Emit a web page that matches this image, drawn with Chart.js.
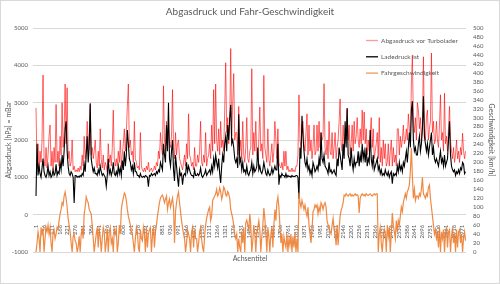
<!DOCTYPE html>
<html lang="de">
<head>
<meta charset="UTF-8" />
<title>Abgasdruck und Fahr-Geschwindigkeit</title>
<script src="https://cdn.jsdelivr.net/npm/chart.js"></script>
<style>
  html, body { margin: 0; padding: 0; background: #fff; }
  #wrap { width: 500px; height: 284px; }
</style>
</head>
<body>
<div id="wrap"><canvas id="chart" width="500" height="284"></canvas></div>
<script>
// one value every 7 samples (sample number = 1 + 7 * index)
const sampleStep = 7;

// x axis tick labels (sample numbers)
const xTicks = [1, 56, 111, 166, 221, 276, 331, 386, 441, 496, 551, 606, 661, 716, 771, 826, 881, 936, 991,
  1046, 1101, 1156, 1211, 1266, 1321, 1376, 1431, 1486, 1541, 1596, 1651, 1706, 1761, 1816, 1871, 1926, 1981,
  2036, 2091, 2146, 2201, 2256, 2311, 2366, 2421, 2476, 2531, 2586, 2641, 2696, 2751, 2806, 2861, 2916, 2971];

// Abgasdruck vor Turbolader [mbar]
const exhaust = [
  2860, 1300, 1900, 1200, 1700, 1400, 2000, 3740, 1500, 1300, 1800, 1250, 1600, 2100, 2400, 1300, 1700, 1200, 1800, 1400,
  2950, 1400, 1700, 1300, 2100, 1600, 3000, 1800, 2200, 3500, 1900, 3400, 1500, 1700, 1300, 1400, 2000, 1200, 1300, 1150,
  1200, 1150, 1250, 1150, 1300, 1200, 1600, 1300, 2100, 1500, 1800, 2500, 1700, 2200, 2950, 1600, 1800, 1500, 1700, 2000,
  1400, 1250, 1700, 1300, 2300, 1500, 1250, 1600, 1200, 1400, 1300, 1150, 1900, 1400, 1600, 1300, 1800, 2800, 1500, 1300,
  1500, 1300, 1700, 1400, 2000, 1300, 1600, 1900, 2300, 1700, 2200, 2900, 3500, 1800, 2000, 1600, 1700, 1400, 2500, 1500,
  1400, 1250, 1300, 1200, 2200, 1300, 1200, 1150, 1250, 1150, 1300, 1200, 1400, 1150, 1200, 1250, 1150, 1200, 1300, 1200,
  1400, 1300, 1700, 1500, 2200, 1800, 1600, 3450, 2000, 1700, 2500, 2000, 2300, 1900, 1800, 2100, 3350, 1800, 1500, 2200,
  1600, 1900, 2000, 1500, 1400, 1300, 1200, 1400, 1600, 1300, 1900, 1500, 2700, 1600, 1500, 1300, 1400, 1200, 1800, 1300,
  1300, 1600, 1400, 1700, 2500, 1400, 1300, 1600, 1400, 2200, 1300, 1500, 1600, 1900, 1500, 2400, 1700, 3350, 1900, 3500,
  2000, 1700, 2300, 1600, 2500, 1800, 2000, 1700, 2800, 4070, 2200, 2600, 1900, 2400, 4450, 2100, 3000, 3780, 2000, 2200,
  2200, 1600, 2900, 1700, 2000, 1500, 2500, 1600, 1400, 1800, 2600, 1500, 1400, 1700, 1800, 3910, 1600, 2200, 1700, 2500,
  1600, 1500, 2000, 2880, 1700, 1900, 1500, 3730, 1800, 1600, 1400, 2300, 1500, 1300, 1600, 1900, 1400, 1700, 2500, 2000,
  1500, 2300, 1400, 1300, 1250, 1400, 1200, 1700, 1300, 1700, 1200, 1300, 1150, 1200, 1150, 1250, 1150, 1200, 1150, 1300,
  1300, 1600, 3210, 2000, 1800, 2400, 2500, 1900, 1700, 2200, 2700, 1600, 2400, 1700, 2000, 1500, 1800, 2400, 1600, 1700,
  2400, 1700, 2500, 1800, 2200, 2000, 2100, 3510, 1800, 1600, 2000, 1500, 2500, 1700, 1600, 2200, 1500, 1800, 2200, 1500,
  1800, 2000, 2500, 3100, 1900, 1700, 2400, 1800, 2000, 2200, 2850, 2000, 2400, 1600, 1900, 2400, 1700, 2500, 1900, 2100,
  2600, 2000, 1800, 2300, 1900, 2800, 2000, 2750, 1900, 2300, 1600, 2000, 1700, 2200, 2600, 1800, 2300, 1500, 1700, 1900,
  2200, 1500, 2600, 1400, 1800, 1300, 2000, 1500, 1900, 1300, 1400, 1900, 1300, 1700, 2000, 1300, 1800, 1400, 1600, 1300,
  2300, 2300, 1600, 2100, 1800, 2000, 2400, 1900, 2000, 2300, 2000, 2700, 2300, 2000, 3500, 4270, 2500, 2200, 2600, 2000,
  3000, 2800, 2300, 2600, 2000, 2400, 4230, 2300, 2000, 2600, 2800, 2000, 2300, 2500, 4330, 2200, 2500, 1900, 2000, 2500,
  2000, 1800, 2400, 3210, 2000, 2200, 1700, 3250, 1900, 2100, 1700, 2300, 2900, 2000, 1700, 1500, 1800, 1400, 1600, 2000,
  1500, 1700, 1400, 1800, 1600, 2180, 1700, 1500, 1700
];

// Ladedruck ist [mbar]
const boost = [
  500, 1900, 1050, 1300, 1100, 1000, 1250, 1500, 1150, 1050, 1000, 1100, 1300, 1050, 1150, 1000, 1050, 1200, 1050, 1100,
  1350, 1050, 1150, 1100, 1400, 1200, 1600, 1300, 1700, 2300, 2500, 1700, 1300, 1100, 1050, 1150, 1100, 1000, 310, 1050,
  1050, 1000, 1030, 1000, 1050, 1020, 1100, 1050, 1350, 1150, 1600, 2100, 1400, 1800, 2985, 1500, 1300, 1150, 1250, 1100,
  1100, 1050, 1200, 1100, 1300, 1150, 1050, 1100, 1050, 1000, 760, 1050, 1500, 1100, 1200, 1050, 1150, 1400, 1100, 1050,
  1150, 1050, 1300, 1100, 1250, 1050, 1450, 1200, 1700, 1300, 1600, 2270, 1900, 1500, 1400, 1200, 1300, 1100, 1400, 1150,
  1150, 1050, 1050, 1000, 1100, 1020, 1000, 1030, 1000, 1050, 1030, 1000, 750, 1050, 1030, 1100, 1050, 1080, 1100, 1050,
  1150, 1100, 1200, 1150, 1400, 1300, 1200, 1900, 1600, 1400, 2400, 1700, 3000, 1500, 1300, 1700, 2000, 1200, 900, 1600,
  1300, 1000, 750, 1200, 1050, 1100, 800, 1050, 1100, 1050, 1400, 1150, 1300, 1200, 1100, 1050, 1050, 1000, 1200, 1050,
  1050, 1100, 1050, 1100, 1250, 1050, 1000, 1050, 1100, 1200, 1050, 1100, 1150, 1200, 1100, 1300, 1150, 1500, 1300, 1600,
  1400, 1250, 1500, 1100, 850, 1300, 1600, 1400, 1900, 2100, 1700, 2400, 2000, 2600, 2940, 1900, 2000, 1800, 1500, 1400,
  1500, 1250, 2690, 1400, 1500, 1200, 1400, 1150, 1200, 1100, 1300, 1100, 1050, 1150, 1200, 1400, 1100, 1300, 1150, 1200,
  1300, 1800, 1200, 1300, 1150, 1100, 1200, 1400, 1250, 1100, 1050, 1200, 1100, 1050, 1100, 1250, 1100, 1200, 1300, 1200,
  1200, 1900, 800, 1050, 1000, 1100, 1050, 1050, 1000, 1100, 1000, 1050, 1020, 1030, 1000, 1050, 1020, 1030, 1020, 1050,
  1050, 1000, 430, 1800, 1500, 2650, 2100, 1700, 1400, 1300, 1500, 1200, 1300, 1100, 1200, 1050, 1400, 1300, 1150, 1200,
  1300, 1200, 1500, 1300, 2200, 1500, 1400, 1600, 1300, 1250, 1200, 1100, 1400, 1150, 1200, 1100, 1150, 1200, 1100, 1050,
  1500, 1300, 1800, 1600, 1400, 1200, 1900, 1500, 2500, 1800, 2850, 1600, 1500, 1300, 1800, 1400, 1200, 1500, 1300, 1400,
  1400, 1700, 1300, 1600, 1400, 1900, 1500, 1700, 1400, 1800, 1300, 1500, 1400, 2270, 1500, 1300, 1600, 1200, 1300, 1400,
  1500, 1200, 1300, 1100, 1200, 1050, 1100, 1050, 1200, 1100, 1050, 1150, 1000, 1100, 1150, 830, 1100, 1050, 1100, 1050,
  1300, 1150, 1400, 1200, 1300, 1150, 1400, 1300, 1500, 1700, 1400, 1800, 2200, 1800, 2800, 3040, 2000, 1700, 1800, 1600,
  1600, 1900, 2100, 1700, 1900, 2300, 3170, 2100, 1900, 1700, 1900, 1600, 1800, 2000, 2200, 1600, 1800, 1500, 1400, 1500,
  1400, 1300, 1500, 1700, 1400, 1500, 1300, 1600, 1300, 1400, 1500, 2000, 2500, 1600, 1300, 1200, 1150, 1200, 1050, 1150,
  1100, 1200, 1100, 1250, 1200, 1400, 1350, 1100, 1150
];

// Fahrgeschwindigkeit [km/h]
const speed = [
  0, 20, 45, 30, 0, 55, 40, 50, 0, 30, 55, 45, 60, 40, 55, 20, 0, 45, 50, 30,
  40, 55, 50, 70, 85, 95, 110, 105, 125, 134, 120, 100, 75, 60, 45, 20, 0, 35, 40, 25,
  20, 0, 10, 35, 0, 40, 50, 30, 85, 100, 123, 115, 110, 95, 90, 85, 60, 30, 0, 20,
  40, 55, 10, 50, 35, 0, 30, 55, 45, 0, 20, 50, 0, 45, 55, 20, 30, 0, 50, 40,
  50, 0, 20, 60, 40, 95, 110, 120, 132, 128, 115, 95, 80, 70, 60, 45, 40, 20, 0, 30,
  55, 45, 10, 0, 50, 30, 25, 55, 40, 0, 55, 10, 40, 50, 55, 0, 35, 55, 10, 45,
  60, 80, 95, 110, 120, 125, 127, 120, 110, 118, 125, 95, 110, 118, 100, 110, 120, 100, 20, 90,
  110, 125, 134, 110, 90, 70, 55, 40, 30, 0, 20, 50, 40, 30, 0, 45, 55, 10, 50, 30,
  30, 0, 20, 45, 55, 30, 10, 0, 35, 60, 75, 85, 95, 100, 70, 80, 115, 120, 125, 130,
  140, 125, 130, 143, 135, 118, 128, 145, 140, 128, 125, 135, 130, 120, 95, 85, 75, 60, 40, 30,
  40, 0, 30, 10, 0, 45, 20, 55, 0, 65, 71, 60, 50, 85, 60, 0, 25, 60, 40, 0,
  40, 55, 70, 50, 0, 35, 60, 98, 75, 40, 0, 55, 35, 0, 40, 55, 10, 60, 95, 70,
  110, 123, 100, 60, 20, 40, 0, 35, 20, 10, 40, 0, 30, 15, 40, 0, 35, 10, 40, 0,
  30, 0, 132, 110, 100, 115, 105, 95, 105, 90, 80, 100, 60, 40, 20, 50, 90, 95, 105, 100,
  105, 85, 100, 90, 110, 105, 95, 105, 110, 100, 70, 60, 55, 45, 40, 60, 75, 50, 40, 15,
  60, 15, 50, 80, 93, 100, 110, 127, 125, 130, 127, 125, 128, 130, 125, 128, 125, 127, 130, 126,
  128, 125, 87, 120, 127, 130, 126, 128, 125, 130, 127, 126, 128, 130, 127, 125, 128, 130, 127, 130,
  130, 0, 40, 55, 20, 0, 30, 50, 45, 0, 60, 35, 55, 0, 40, 87, 60, 45, 30, 70,
  45, 70, 60, 80, 100, 90, 110, 120, 130, 120, 135, 140, 150, 180, 232, 170, 120, 140, 115, 125,
  125, 120, 130, 125, 140, 167, 130, 125, 120, 130, 125, 145, 150, 120, 100, 80, 60, 40, 50, 30,
  40, 10, 55, 0, 45, 30, 50, 0, 40, 55, 10, 45, 50, 0, 35, 55, 20, 40, 0, 50,
  10, 45, 50, 20, 40, 0, 30, 45, 25
];

const toPoints = arr => arr.map((v, i) => ({ x: 1 + i * sampleStep, y: v }));

const textColor = '#595959';
const fontFamily = 'Lato, "Open Sans", sans-serif';

const seriesStyle = [
  { label: 'Abgasdruck vor Turbolader', color: 'rgba(255, 0, 0, 0.6)', legend: 'rgba(255, 0, 0, 0.4)' },
  { label: 'Ladedruck ist', color: '#000000', legend: '#000000' },
  { label: 'Fahrgeschwindigkeit', color: 'rgba(237, 125, 49, 0.9)', legend: 'rgba(237, 125, 49, 0.8)' }
];

// legend inside the plot, top right, plus the thin outer frame
const innerLegend = {
  id: 'innerLegend',
  afterDraw(chart) {
    const ctx = chart.ctx;
    ctx.save();
    ctx.font = '6.5px ' + fontFamily;
    ctx.textBaseline = 'middle';
    ctx.fillStyle = textColor;
    seriesStyle.forEach((s, i) => {
      const y = 40.5 + i * 16.3;
      ctx.strokeStyle = s.legend;
      ctx.lineWidth = 1.3;
      ctx.beginPath();
      ctx.moveTo(366, y);
      ctx.lineTo(378, y);
      ctx.stroke();
      ctx.fillText(s.label, 381, y);
    });
    ctx.strokeStyle = '#d9d9d9';
    ctx.lineWidth = 1;
    ctx.strokeRect(0.5, 0.5, chart.width - 1, chart.height - 1);
    ctx.restore();
  }
};

new Chart(document.getElementById('chart'), {
  type: 'line',
  data: {
    datasets: [
      {
        label: seriesStyle[0].label,
        data: toPoints(exhaust),
        yAxisID: 'y',
        borderColor: seriesStyle[0].color,
        borderWidth: 1,
        pointRadius: 0,
        order: 3
      },
      {
        label: seriesStyle[1].label,
        data: toPoints(boost),
        yAxisID: 'y',
        borderColor: seriesStyle[1].color,
        borderWidth: 1.1,
        pointRadius: 0,
        order: 2
      },
      {
        label: seriesStyle[2].label,
        data: toPoints(speed),
        yAxisID: 'y1',
        borderColor: seriesStyle[2].color,
        borderWidth: 1.2,
        pointRadius: 0,
        order: 1
      }
    ]
  },
  options: {
    responsive: false,
    animation: false,
    devicePixelRatio: 1,
    layout: { padding: 0 },
    plugins: {
      legend: { display: false },
      tooltip: { enabled: false },
      title: {
        display: true,
        text: 'Abgasdruck und Fahr-Geschwindigkeit',
        color: textColor,
        font: { family: fontFamily, size: 10, weight: 'normal' },
        padding: { top: 6, bottom: 10 }
      },
      subtitle: {
        display: true,
        position: 'bottom',
        text: 'Achsentitel',
        color: textColor,
        font: { family: fontFamily, size: 7, weight: 'normal' },
        padding: { top: 3, bottom: 20.6 }
      }
    },
    scales: {
      x: {
        type: 'linear',
        position: { y: 0 },
        min: -20,
        max: 3000,
        grid: { display: false },
        border: { display: false },
        afterBuildTicks: axis => { axis.ticks = xTicks.map(v => ({ value: v })); },
        ticks: {
          autoSkip: false,
          minRotation: 90,
          maxRotation: 90,
          padding: 2,
          color: textColor,
          font: { family: fontFamily, size: 6 },
          callback: v => String(v)
        }
      },
      y: {
        position: 'left',
        min: -1000,
        max: 5000,
        afterFit: s => { s.width = 33; },
        grid: { color: '#d9d9d9', drawTicks: false },
        border: { display: false },
        ticks: {
          stepSize: 1000,
          padding: 5,
          color: textColor,
          font: { family: fontFamily, size: 6 },
          callback: v => String(v)
        },
        title: {
          display: true,
          text: 'Abgasdruck [hPa] = mBar',
          color: textColor,
          font: { family: fontFamily, size: 7 },
          padding: { top: 5, bottom: 0 }
        }
      },
      y1: {
        position: 'right',
        min: 0,
        max: 500,
        afterFit: s => { s.width = 34; },
        grid: { display: false, drawTicks: false },
        border: { display: false },
        ticks: {
          stepSize: 20,
          autoSkip: false,
          padding: 7,
          color: textColor,
          font: { family: fontFamily, size: 6 }
        },
        title: {
          display: true,
          text: 'Geschwindigkeit [km/h]',
          color: textColor,
          font: { family: fontFamily, size: 7 },
          padding: { top: 5, bottom: 0 }
        }
      }
    }
  },
  plugins: [innerLegend]
});
</script>
</body>
</html>
